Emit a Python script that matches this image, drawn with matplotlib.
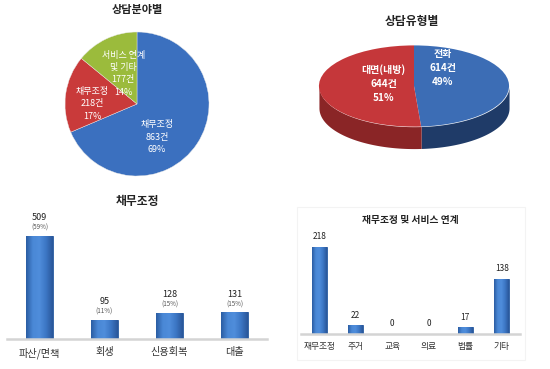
import matplotlib
matplotlib.use("Agg")
import matplotlib.pyplot as plt
import numpy as np
from matplotlib.colors import LinearSegmentedColormap

plt.rcParams['font.family'] = ['Noto Sans CJK KR', 'DejaVu Sans']

# ---- data ----
field_labels = ["채무조정", "채무조정", "서비스 연계\n및 기타"]
field_counts = [863, 218, 177]
field_pcts = [69, 17, 14]

type_labels = ["전화", "대면(내방)"]
type_counts = [614, 644]
type_pcts = [49, 51]

debt_cats = ["파산/면책", "회생", "신용회복", "대출"]
debt_vals = [509, 95, 128, 131]
debt_pcts = [59, 11, 15, 15]

link_cats = ["재무조정", "주거", "교육", "의료", "법률", "기타"]
link_vals = [218, 22, 0, 0, 17, 138]

W, H = 550, 369
fig = plt.figure(figsize=(W / 100, H / 100), dpi=100)

bar_cmap = LinearSegmentedColormap.from_list(
    "barblue", ["#2b5da3", "#4a88d6", "#4f8ddb", "#3c76c4", "#2a579a"])


def px_axes(x, y, w, h):
    # pixel box with top-left origin -> figure fraction
    return fig.add_axes([x / W, 1 - (y + h) / H, w / W, h / H])


# ---- pie 1: 상담분야별 ----
ax1 = px_axes(65, 32, 144, 144)
ax1.pie(field_counts, colors=["#3b70bf", "#c93a3a", "#9bbb3c"], startangle=90,
        counterclock=False, radius=1,
        wedgeprops=dict(edgecolor="#e8e8e8", linewidth=0.3))
ax1.set_xlim(-1, 1); ax1.set_ylim(-1, 1)
fig.text(137 / W, 1 - 10 / H, "상담분야별", ha="center", va="center",
         fontsize=8, fontweight="bold", color="#222222")
pos1 = [(0.28, -0.46), (-0.62, 0.0), (-0.19, 0.42)]
for (x, y), lab, n, p in zip(pos1, field_labels, field_counts, field_pcts):
    ax1.text(x, y, f"{lab}\n{n}건\n{p}%", ha="center", va="center",
             fontsize=6.5, color="white", linespacing=1.45)

# ---- pie 2: 상담유형별 (3D look) ----
depth = 0.54
ax2 = px_axes(318, 45, 192, 104)
ax2.pie(type_counts, colors=["#3c6db5", "#c5373a"], startangle=90,
        counterclock=False, radius=1,
        wedgeprops=dict(edgecolor="none"))
ax2.set_aspect("auto")
ax2.set_xlim(-1.01, 1.01); ax2.set_ylim(-1 - depth - 0.01, 1.01)
# side walls from wedge angles
ang = 90 - 360 * np.cumsum([0] + type_counts) / sum(type_counts)
side_cols = ["#1f3b68", "#8a2526"]
for i in range(len(type_counts)):
    a_hi, a_lo = ang[i], ang[i + 1]
    lo, hi = max(a_lo, -180), min(a_hi, 0)
    if hi <= lo:
        continue
    t = np.radians(np.linspace(lo, hi, 100))
    ax2.fill_between(np.cos(t), np.sin(t) - depth, np.sin(t),
                     color=side_cols[i], zorder=0, linewidth=0)
fig.text(412 / W, 1 - 22 / H, "상담유형별", ha="center", va="center",
         fontsize=8.5, fontweight="bold", color="#222222")
pos2 = [(0.30, 0.45), (-0.32, 0.05)]
for (x, y), lab, n, p in zip(pos2, type_labels, type_counts, type_pcts):
    ax2.text(x, y, f"{lab}\n{n}건\n{p}%", ha="center", va="center",
             fontsize=7.2, color="white", fontweight="bold", linespacing=1.5)


def bar_chart(ax, cats, vals, ymax, width):
    x = np.arange(len(cats))
    bars = ax.bar(x, vals, width=width, color="#3f7acb", edgecolor="#2a5a9e",
                  linewidth=0.6, zorder=2)
    grad = np.linspace(0, 1, 64).reshape(1, -1)
    for b in bars:
        if b.get_height() <= 0:
            continue
        im = ax.imshow(grad, cmap=bar_cmap, aspect="auto", zorder=2.5,
                       extent=(b.get_x(), b.get_x() + b.get_width(),
                               0, b.get_height()))
        im.set_clip_path(b)
    ax.set_xlim(-0.5, len(cats) - 0.5)
    ax.set_ylim(0, ymax)
    for s in ["top", "right", "left"]:
        ax.spines[s].set_visible(False)
    ax.spines["bottom"].set_color("#d4d4d4")
    ax.spines["bottom"].set_linewidth(1.8)
    ax.set_yticks([])
    ax.set_xticks(x)
    ax.set_xticklabels(cats, fontsize=7.3, color="#333333")
    ax.tick_params(axis="x", length=0, pad=6)
    return bars


# ---- bar 1: 채무조정 ----
ax3 = px_axes(7, 215, 260, 124)
bars = bar_chart(ax3, debt_cats, debt_vals, 509 * 124 / 103, 0.415)
for b, v, p in zip(bars, debt_vals, debt_pcts):
    cx = b.get_x() + b.get_width() / 2
    ax3.annotate(f"{v}", (cx, v), xytext=(0, 10), textcoords="offset points",
                 ha="center", va="bottom", fontsize=6.5, color="#222222")
    ax3.annotate(f"({p}%)", (cx, v), xytext=(0, 3), textcoords="offset points",
                 ha="center", va="bottom", fontsize=4.5, color="#555555")
fig.text(137 / W, 1 - 202 / H, "채무조정", ha="center", va="center",
         fontsize=8.5, fontweight="bold", color="#222222")

# ---- bar 2: 재무조정 및 서비스 연계 ----
fig.add_artist(plt.Rectangle((297 / W, 1 - 360 / H), 228 / W, 153 / H,
                             transform=fig.transFigure, fill=False,
                             edgecolor="#f3f3f3", linewidth=0.8))
ax4 = px_axes(301, 226, 219, 108)
bars = bar_chart(ax4, link_cats, link_vals, 218 * 108 / 87, 0.41)
for b, v in zip(bars, link_vals):
    cx = b.get_x() + b.get_width() / 2
    ax4.annotate(f"{v}", (cx, v), xytext=(0, 4), textcoords="offset points",
                 ha="center", va="bottom", fontsize=6, color="#222222")
ax4.tick_params(axis="x", labelsize=6.3)
fig.text(410 / W, 1 - 220 / H, "재무조정 및 서비스 연계", ha="center", va="center",
         fontsize=7, fontweight="bold", color="#222222")

fig.savefig("out.png", dpi=100)
